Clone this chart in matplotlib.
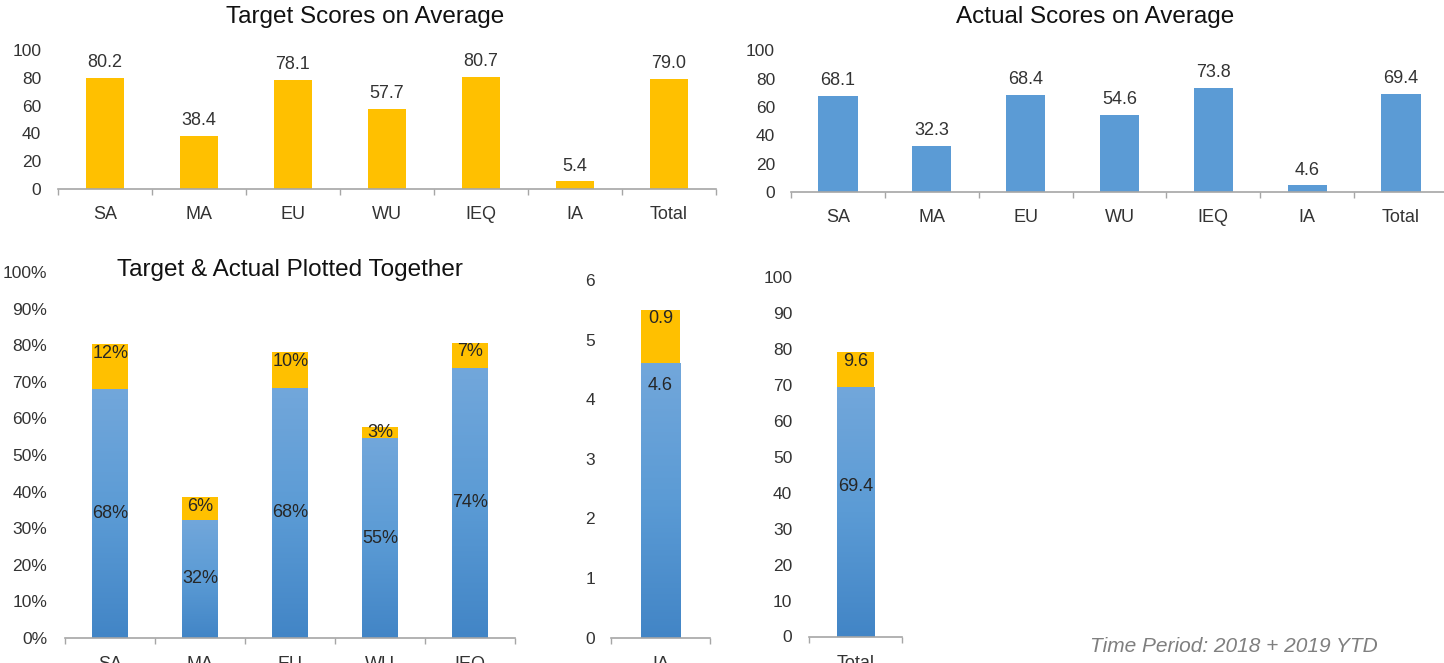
import numpy as np
import matplotlib
matplotlib.use("Agg")
import matplotlib.pyplot as plt
from matplotlib.colors import LinearSegmentedColormap

plt.rcParams["font.family"] = ["Liberation Sans", "DejaVu Sans"]

# Données
categories = ["SA", "MA", "EU", "WU", "IEQ", "IA", "Total"]
target = [80.2, 38.4, 78.1, 57.7, 80.7, 5.4, 79.0]
actual = [68.1, 32.3, 68.4, 54.6, 73.8, 4.6, 69.4]
gap = [12.1, 6.1, 9.7, 3.1, 6.9, 0.9, 9.6]

pct_ticks = list(range(0, 101, 10))
ia_ticks = [0, 1, 2, 3, 4, 5, 6]
total_ticks = list(range(0, 101, 10))
top_ticks = list(range(0, 101, 20))

GOLD = "#FFC000"
BLUE = "#5B9BD5"
TXT = "#333333"
AXE = "#A6A6A6"
grad = LinearSegmentedColormap.from_list("bleu", ["#4285C6", "#5B9BD5", "#72A7DB"])

W, H = 1444, 663
fig = plt.figure(figsize=(W / 100, H / 100), dpi=100)


def axes_px(x0, x1, ybas, yhaut):
    return fig.add_axes([x0 / W, 1 - ybas / H, (x1 - x0) / W, (ybas - yhaut) / H])


def style(ax, n, ymax, ticks, pad_y, fmt=None):
    ax.set_xlim(-0.5, n - 0.5)
    ax.set_ylim(0, ymax)
    for s in ["top", "right", "left"]:
        ax.spines[s].set_visible(False)
    ax.spines["bottom"].set_color(AXE)
    ax.spines["bottom"].set_linewidth(1.2)
    ax.set_yticks(ticks)
    if fmt:
        ax.set_yticklabels([fmt % t for t in ticks])
    ax.tick_params(axis="y", length=0, pad=pad_y, labelsize=12.5, labelcolor=TXT)
    ax.set_xticks(np.arange(n))
    ax.set_xticks(np.arange(n + 1) - 0.5, minor=True)
    ax.tick_params(axis="x", which="major", length=0, pad=12, labelsize=13, labelcolor=TXT)
    ax.tick_params(axis="x", which="minor", length=4.5, width=1, color=AXE, direction="out")
    ax.patch.set_alpha(0)


def barres_degradees(ax, x, h, width):
    barres = ax.bar(x, h, width, color=BLUE, zorder=2)
    gradient = np.linspace(0, 1, 256).reshape(-1, 1)
    for p in barres:
        im = ax.imshow(gradient, cmap=grad, origin="lower", aspect="auto",
                       extent=[p.get_x(), p.get_x() + p.get_width(), 0, p.get_height()],
                       zorder=2.5)
        im.set_clip_path(p)
    return barres


def empile(ax, idx, width, frac_bleu, fmt_bleu, fmt_or, ymax):
    x = np.arange(len(idx))
    a = [actual[i] for i in idx]
    g = [gap[i] for i in idx]
    barres_degradees(ax, x, a, width)
    ax.bar(x, g, width, bottom=a, color=GOLD, zorder=3)
    px_unit = ax.bbox.height / ymax
    for xi, ai, gi in zip(x, a, g):
        ax.text(xi, ai * frac_bleu, fmt_bleu % ai, ha="center", va="center",
                fontsize=13, color="#262626", zorder=4)
        y_or = ai + gi - min(9 / px_unit, gi / 2)
        ax.text(xi, y_or, fmt_or % gi, ha="center", va="center",
                fontsize=13, color="#262626", zorder=4)


# Cibles
ax1 = axes_px(58, 716, 189, 50)
b = ax1.bar(range(7), target, 0.4, color=GOLD)
for r, v in zip(b, target):
    ax1.annotate(f"{v:.1f}", (r.get_x() + r.get_width() / 2, v), xytext=(0, 5),
                 textcoords="offset points", ha="center", va="bottom", fontsize=13, color=TXT)
style(ax1, 7, 100, top_ticks, 12)
ax1.set_xticklabels(categories)
fig.text(365 / W, 1 - 17 / H, "Target Scores on Average", ha="center", va="center",
         fontsize=17.5, color="#111111")

# Réels
ax2 = axes_px(791, 1448, 192, 50.5)
b = ax2.bar(range(7), actual, 0.42, color=BLUE)
for r, v in zip(b, actual):
    ax2.annotate(f"{v:.1f}", (r.get_x() + r.get_width() / 2, v), xytext=(0, 5),
                 textcoords="offset points", ha="center", va="bottom", fontsize=13, color=TXT)
style(ax2, 7, 100, top_ticks, 11.5)
ax2.set_xticklabels(categories)
fig.text(1095 / W, 1 - 17 / H, "Actual Scores on Average", ha="center", va="center",
         fontsize=17.5, color="#111111")

# Ensemble (pourcentages)
ax3 = axes_px(65.4, 515, 638, 272)
style(ax3, 5, 100, pct_ticks, 13, "%d%%")
ax3.set_xticklabels(categories[:5])
empile(ax3, [0, 1, 2, 3, 4], 0.4, 0.5, "%.0f%%", "%.0f%%", 100)
fig.text(290 / W, 1 - 270 / H, "Target & Actual Plotted Together", ha="center", va="center",
         fontsize=17.5, color="#111111")

# IA
ax4 = axes_px(611, 710, 637.5, 280)
style(ax4, 1, 6, ia_ticks, 11.5)
ax4.set_xticklabels([categories[5]])
empile(ax4, [5], 0.4, 0.92, "%.1f", "%.1f", 6)

# Total
ax5 = axes_px(809, 902, 636.5, 277)
style(ax5, 1, 100, total_ticks, 12)
ax5.set_xticklabels([categories[6]])
empile(ax5, [6], 0.405, 0.6, "%.1f", "%.1f", 100)

for ax, ymax in [(ax3, 100), (ax4, 6), (ax5, 100)]:
    ax.set_xlim(-0.5, len(ax.get_xticks()) - 0.5)
    ax.set_ylim(0, ymax)
    ax.tick_params(axis="x", which="major", pad=13)

fig.text(1090 / W, 1 - 647 / H, "Time Period: 2018 + 2019 YTD", ha="left", va="center",
         style="italic", fontsize=15, color="#7F7F7F")

fig.savefig("out.png", dpi=100)
plt.close(fig)
